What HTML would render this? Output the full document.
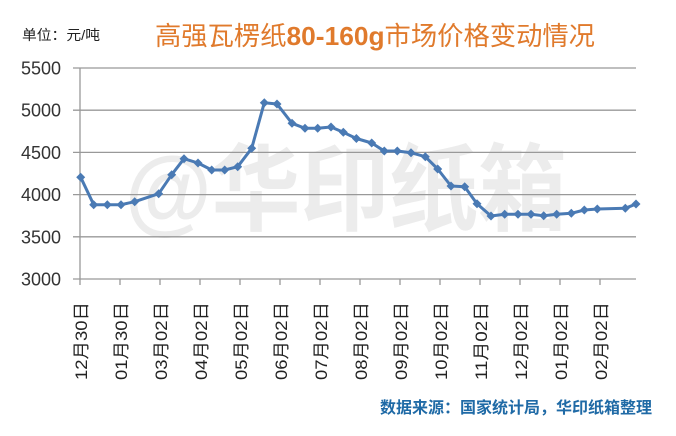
<!DOCTYPE html>
<html>
<head>
<meta charset="utf-8">
<style>
html,body{margin:0;padding:0;background:#fff;}
svg{display:block;}
</style>
</head>
<body>
<svg width="676" height="436" viewBox="0 0 676 436" xmlns="http://www.w3.org/2000/svg">
<rect width="676" height="436" fill="#ffffff"/>
<text x="125" y="223" font-family="'Liberation Sans','Noto Sans CJK SC',sans-serif" font-weight="bold" font-size="95" fill="#ececec" textLength="442" lengthAdjust="spacingAndGlyphs">@华印纸箱</text>
<text x="22" y="40" font-family="'Liberation Sans','Noto Sans CJK SC',sans-serif" font-size="14" fill="#222" textLength="78" lengthAdjust="spacingAndGlyphs">单位：元/吨</text>
<text x="155" y="45" font-family="'Liberation Sans','Noto Sans CJK SC',sans-serif" font-size="26" fill="#e07a2c" textLength="440" lengthAdjust="spacingAndGlyphs">高强瓦楞纸<tspan font-weight="bold">80-160g</tspan>市场价格变动情况</text>
<g stroke="#999" stroke-width="1.3">
<line x1="73" y1="68" x2="636" y2="68"/>
<line x1="73" y1="110.2" x2="636" y2="110.2"/>
<line x1="73" y1="152.4" x2="636" y2="152.4"/>
<line x1="73" y1="194.6" x2="636" y2="194.6"/>
<line x1="73" y1="236.8" x2="636" y2="236.8"/>
<line x1="73" y1="279" x2="636" y2="279"/>
<line x1="80" y1="68" x2="80" y2="285"/>
<path d="M120,279v6M160,279v6M200,279v6M240,279v6M280,279v6M320,279v6M360,279v6M400,279v6M440,279v6M480,279v6M520,279v6M560,279v6M600,279v6"/>
</g>
<g font-family="'Liberation Sans',sans-serif" font-size="18" fill="#333" text-anchor="end">
<text x="61" y="74.5">5500</text>
<text x="61" y="116.7">5000</text>
<text x="61" y="158.9">4500</text>
<text x="61" y="201.1">4000</text>
<text x="61" y="243.3">3500</text>
<text x="61" y="285.5">3000</text>
</g>
<g font-family="'Liberation Sans','Noto Sans CJK SC',sans-serif" font-size="17" fill="#222" text-anchor="end">
<text transform="translate(87,302) rotate(-90)" textLength="78" lengthAdjust="spacingAndGlyphs">12月30日</text>
<text transform="translate(127,302) rotate(-90)" textLength="78" lengthAdjust="spacingAndGlyphs">01月30日</text>
<text transform="translate(167,302) rotate(-90)" textLength="78" lengthAdjust="spacingAndGlyphs">03月02日</text>
<text transform="translate(207,302) rotate(-90)" textLength="78" lengthAdjust="spacingAndGlyphs">04月02日</text>
<text transform="translate(247,302) rotate(-90)" textLength="78" lengthAdjust="spacingAndGlyphs">05月02日</text>
<text transform="translate(287,302) rotate(-90)" textLength="78" lengthAdjust="spacingAndGlyphs">06月02日</text>
<text transform="translate(327,302) rotate(-90)" textLength="78" lengthAdjust="spacingAndGlyphs">07月02日</text>
<text transform="translate(367,302) rotate(-90)" textLength="78" lengthAdjust="spacingAndGlyphs">08月02日</text>
<text transform="translate(407,302) rotate(-90)" textLength="78" lengthAdjust="spacingAndGlyphs">09月02日</text>
<text transform="translate(447,302) rotate(-90)" textLength="78" lengthAdjust="spacingAndGlyphs">10月02日</text>
<text transform="translate(487,302) rotate(-90)" textLength="78" lengthAdjust="spacingAndGlyphs">11月02日</text>
<text transform="translate(527,302) rotate(-90)" textLength="78" lengthAdjust="spacingAndGlyphs">12月02日</text>
<text transform="translate(567,302) rotate(-90)" textLength="78" lengthAdjust="spacingAndGlyphs">01月02日</text>
<text transform="translate(607,302) rotate(-90)" textLength="78" lengthAdjust="spacingAndGlyphs">02月02日</text>
</g>
<polyline fill="none" stroke="#4a7ab4" stroke-width="3" stroke-linejoin="round" points="80.7,177.3 93.7,204.7 107.3,204.7 121,204.7 134.7,201.7 158.7,193.7 171.7,174.7 184,158.7 198,163 211.7,170 224.7,170 237.7,166.7 251.7,148.3 264.3,102.7 277,104 292,123.3 305,128.3 317.7,128.3 331,127 343.3,132.3 356.4,138.5 371.7,143 384.3,151 397.3,151 411,152.7 425.3,156.7 437.7,169 451,186 464.7,186.7 477,203.7 491,216 504.7,214.3 518,214.3 531,214.3 543.7,215.7 556.7,214.3 571.3,213.3 584.3,210 597.3,209 625.3,208.3 636,204"/>
<path fill="#4a7ab4" d="M80.7,172.8l4.5,4.5l-4.5,4.5l-4.5,-4.5zM93.7,200.2l4.5,4.5l-4.5,4.5l-4.5,-4.5zM107.3,200.2l4.5,4.5l-4.5,4.5l-4.5,-4.5zM121,200.2l4.5,4.5l-4.5,4.5l-4.5,-4.5zM134.7,197.2l4.5,4.5l-4.5,4.5l-4.5,-4.5zM158.7,189.2l4.5,4.5l-4.5,4.5l-4.5,-4.5zM171.7,170.2l4.5,4.5l-4.5,4.5l-4.5,-4.5zM184,154.2l4.5,4.5l-4.5,4.5l-4.5,-4.5zM198,158.5l4.5,4.5l-4.5,4.5l-4.5,-4.5zM211.7,165.5l4.5,4.5l-4.5,4.5l-4.5,-4.5zM224.7,165.5l4.5,4.5l-4.5,4.5l-4.5,-4.5zM237.7,162.2l4.5,4.5l-4.5,4.5l-4.5,-4.5zM251.7,143.8l4.5,4.5l-4.5,4.5l-4.5,-4.5zM264.3,98.2l4.5,4.5l-4.5,4.5l-4.5,-4.5zM277,99.5l4.5,4.5l-4.5,4.5l-4.5,-4.5zM292,118.8l4.5,4.5l-4.5,4.5l-4.5,-4.5zM305,123.8l4.5,4.5l-4.5,4.5l-4.5,-4.5zM317.7,123.8l4.5,4.5l-4.5,4.5l-4.5,-4.5zM331,122.5l4.5,4.5l-4.5,4.5l-4.5,-4.5zM343.3,127.8l4.5,4.5l-4.5,4.5l-4.5,-4.5zM356.4,134l4.5,4.5l-4.5,4.5l-4.5,-4.5zM371.7,138.5l4.5,4.5l-4.5,4.5l-4.5,-4.5zM384.3,146.5l4.5,4.5l-4.5,4.5l-4.5,-4.5zM397.3,146.5l4.5,4.5l-4.5,4.5l-4.5,-4.5zM411,148.2l4.5,4.5l-4.5,4.5l-4.5,-4.5zM425.3,152.2l4.5,4.5l-4.5,4.5l-4.5,-4.5zM437.7,164.5l4.5,4.5l-4.5,4.5l-4.5,-4.5zM451,181.5l4.5,4.5l-4.5,4.5l-4.5,-4.5zM464.7,182.2l4.5,4.5l-4.5,4.5l-4.5,-4.5zM477,199.2l4.5,4.5l-4.5,4.5l-4.5,-4.5zM491,211.5l4.5,4.5l-4.5,4.5l-4.5,-4.5zM504.7,209.8l4.5,4.5l-4.5,4.5l-4.5,-4.5zM518,209.8l4.5,4.5l-4.5,4.5l-4.5,-4.5zM531,209.8l4.5,4.5l-4.5,4.5l-4.5,-4.5zM543.7,211.2l4.5,4.5l-4.5,4.5l-4.5,-4.5zM556.7,209.8l4.5,4.5l-4.5,4.5l-4.5,-4.5zM571.3,208.8l4.5,4.5l-4.5,4.5l-4.5,-4.5zM584.3,205.5l4.5,4.5l-4.5,4.5l-4.5,-4.5zM597.3,204.5l4.5,4.5l-4.5,4.5l-4.5,-4.5zM625.3,203.8l4.5,4.5l-4.5,4.5l-4.5,-4.5zM636,199.5l4.5,4.5l-4.5,4.5l-4.5,-4.5z"/>
<text x="380" y="413" font-family="'Liberation Sans','Noto Sans CJK SC',sans-serif" font-weight="bold" font-size="16" fill="#1f6aa6" textLength="272" lengthAdjust="spacingAndGlyphs">数据来源：国家统计局，华印纸箱整理</text>
</svg>
</body>
</html>
